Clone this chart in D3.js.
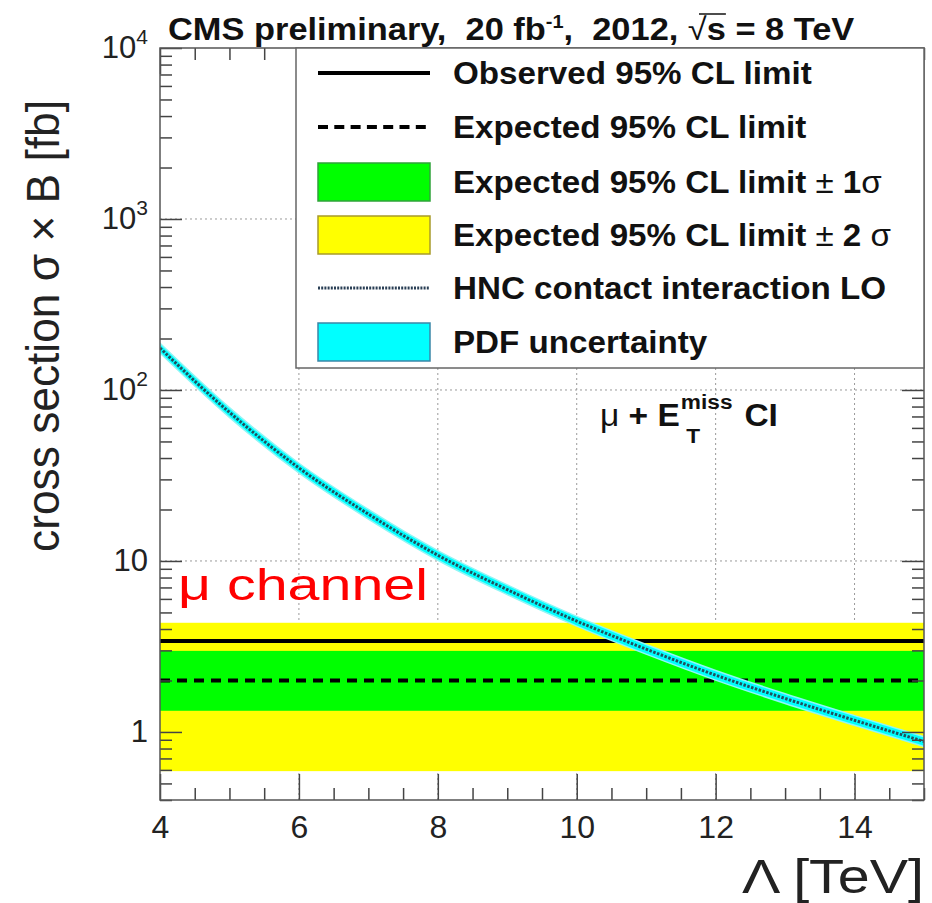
<!DOCTYPE html>
<html>
<head>
<meta charset="utf-8">
<script src="https://cdn.jsdelivr.net/npm/d3@7"></script>
<style>
  body { margin: 0; background: #fff; }
  svg { display: block; }
  text { font-family: "Liberation Sans", Arial, Helvetica, sans-serif; white-space: pre; }
</style>
</head>
<body>
<svg id="chart" width="932" height="903"></svg>
<script>
// HNC contact-interaction LO cross section vs. scale Lambda
const lambdaTeV = [4, 5, 6, 7, 8, 9, 10, 11, 12, 13, 14, 15];
const sigmaHNC  = [176, 74, 35, 18.8, 10.8, 6.8, 4.45, 3.05, 2.15, 1.57, 1.17, 0.88];
const pdfRelUnc = 0.065;

// 95% CL limits on sigma x B [fb] (flat in Lambda)
const observedLimit  = 3.4;
const expectedLimit  = 2.0;
const expected1Sigma = [1.33, 2.98];
const expected2Sigma = [0.59, 4.35];

// axis ticks
const xMajorTicks = [4, 6, 8, 10, 12, 14];
const yDecadeTicks = [1, 10, 100, 1000, 10000];

const legendLabels = [
  "Observed 95% CL limit",
  "Expected 95% CL limit",
  "Expected 95% CL limit",
  "Expected 95% CL limit",
  "HNC contact interaction LO",
  "PDF uncertainty"
];

const svg = d3.select("#chart");
const plot = { left: 160, right: 924, top: 48, bottom: 800 };

const x = d3.scaleLinear().domain([4, 15]).range([plot.left, plot.right]);
const y = d3.scaleLog().domain([0.4, 1e4]).range([plot.bottom, plot.top]);

svg.append("defs").append("clipPath").attr("id", "plotClip")
  .append("rect")
  .attr("x", plot.left).attr("y", plot.top)
  .attr("width", plot.right - plot.left).attr("height", plot.bottom - plot.top);

// dotted grid
const grid = svg.append("g")
  .attr("stroke", "#9a9a9a").attr("stroke-width", 1).attr("stroke-dasharray", "2,3");
grid.selectAll("line.gv").data(xMajorTicks.filter(v => v > 4)).join("line")
  .attr("class", "gv")
  .attr("x1", d => x(d)).attr("x2", d => x(d))
  .attr("y1", plot.top).attr("y2", plot.bottom);
grid.selectAll("line.gh").data(yDecadeTicks.filter(v => v < 1e4)).join("line")
  .attr("class", "gh")
  .attr("x1", plot.left).attr("x2", plot.right)
  .attr("y1", d => y(d)).attr("y2", d => y(d));

// expected-limit bands
const bands = svg.append("g").attr("clip-path", "url(#plotClip)");
bands.append("rect")
  .attr("x", x(4)).attr("width", x(15) - x(4))
  .attr("y", y(expected2Sigma[1])).attr("height", y(expected2Sigma[0]) - y(expected2Sigma[1]))
  .attr("fill", "#ffff00");
bands.append("rect")
  .attr("x", x(4)).attr("width", x(15) - x(4))
  .attr("y", y(expected1Sigma[1])).attr("height", y(expected1Sigma[0]) - y(expected1Sigma[1]))
  .attr("fill", "#00ff00");

// limit lines
bands.append("line")
  .attr("x1", x(4)).attr("x2", x(15))
  .attr("y1", y(observedLimit)).attr("y2", y(observedLimit))
  .attr("stroke", "#000").attr("stroke-width", 4);
bands.append("line")
  .attr("x1", x(4)).attr("x2", x(15))
  .attr("y1", y(expectedLimit)).attr("y2", y(expectedLimit))
  .attr("stroke", "#000").attr("stroke-width", 4).attr("stroke-dasharray", "10,7");

// theory curve with PDF band
const pts = lambdaTeV.map((l, i) => ({ l, s: sigmaHNC[i] }));
const pdfArea = d3.area()
  .x(d => x(d.l))
  .y0(d => y(d.s * (1 - pdfRelUnc)))
  .y1(d => y(d.s * (1 + pdfRelUnc)))
  .curve(d3.curveMonotoneX);
const hncLine = d3.line()
  .x(d => x(d.l)).y(d => y(d.s))
  .curve(d3.curveMonotoneX);
bands.append("path").datum(pts).attr("d", pdfArea)
  .attr("fill", "#00ffff").attr("stroke", "#8ff6f6").attr("stroke-width", 1.5);
bands.append("path").datum(pts).attr("d", hncLine)
  .attr("fill", "none").attr("stroke", "#22505f").attr("stroke-width", 3)
  .attr("stroke-dasharray", "2.5,1.5");

// axes (ticks point inward, on all four sides)
function styleTicks(g) {
  g.select(".domain").remove();
  g.selectAll(".tick line").attr("stroke", "#444").attr("stroke-width", 1.5);
}
const xMinor = d3.range(4, 15.001, 0.5).filter(v => !xMajorTicks.includes(v));
const yMinor = [];
[0.1, 1, 10, 100, 1000].forEach(dec => {
  for (let k = 2; k <= 9; k++) {
    const v = k * dec;
    if (v >= 0.4 && v < 1e4) yMinor.push(v);
  }
});

const xAxis = svg.append("g").attr("transform", `translate(0,${plot.bottom})`)
  .call(d3.axisBottom(x).tickValues(xMajorTicks).tickSize(-26).tickPadding(15).tickFormat(d3.format("d")))
  .call(styleTicks);
xAxis.selectAll("text")
  .attr("font-size", 32).attr("fill", "#222")
  .attr("font-family", "'Liberation Sans', Arial, sans-serif");
svg.append("g").attr("transform", `translate(0,${plot.bottom})`)
  .call(d3.axisBottom(x).tickValues(xMinor).tickSize(-12).tickFormat(""))
  .call(styleTicks);

svg.append("g").attr("transform", `translate(0,${plot.top})`)
  .call(d3.axisTop(x).tickValues(xMajorTicks).tickSize(-26).tickFormat(""))
  .call(styleTicks);
svg.append("g").attr("transform", `translate(0,${plot.top})`)
  .call(d3.axisTop(x).tickValues(xMinor).tickSize(-12).tickFormat(""))
  .call(styleTicks);

const yAxis = svg.append("g").attr("transform", `translate(${plot.left},0)`)
  .call(d3.axisLeft(y).tickValues(yDecadeTicks).tickSize(-22).tickPadding(12).tickFormat(""))
  .call(styleTicks);
yAxis.selectAll(".tick text")
  .attr("font-size", 31).attr("fill", "#222")
  .attr("font-family", "'Liberation Sans', Arial, sans-serif")
  .each(function (d) {
    const t = d3.select(this);
    const e = Math.round(Math.log10(d));
    if (e <= 1) {
      t.text(String(d));
    } else {
      t.append("tspan").text("10");
      t.append("tspan").attr("font-size", 21).attr("dy", -14).text(String(e));
    }
  });
svg.append("g").attr("transform", `translate(${plot.left},0)`)
  .call(d3.axisLeft(y).tickValues(yMinor).tickSize(-12).tickFormat(""))
  .call(styleTicks);
svg.append("g").attr("transform", `translate(${plot.right},0)`)
  .call(d3.axisRight(y).tickValues(yDecadeTicks).tickSize(-22).tickFormat(""))
  .call(styleTicks);
svg.append("g").attr("transform", `translate(${plot.right},0)`)
  .call(d3.axisRight(y).tickValues(yMinor).tickSize(-12).tickFormat(""))
  .call(styleTicks);

// frame
svg.append("rect")
  .attr("x", plot.left).attr("y", plot.top)
  .attr("width", plot.right - plot.left).attr("height", plot.bottom - plot.top)
  .attr("fill", "none").attr("stroke", "#555").attr("stroke-width", 1.5);

// axis titles
svg.append("text")
  .attr("transform", "translate(59,552) rotate(-90)")
  .attr("font-size", 46).attr("fill", "#222")
  .attr("textLength", 452).attr("lengthAdjust", "spacingAndGlyphs")
  .text("cross section σ × B [fb]");
svg.append("text")
  .attr("x", 924).attr("y", 893).attr("text-anchor", "end")
  .attr("font-size", 48).attr("fill", "#222")
  .attr("textLength", 182).attr("lengthAdjust", "spacingAndGlyphs")
  .text("Λ [TeV]");

// legend
const lg = svg.append("g");
lg.append("rect")
  .attr("x", 296).attr("y", plot.top).attr("width", plot.right - 296).attr("height", 320)
  .attr("fill", "#fff").attr("stroke", "#666").attr("stroke-width", 1.5);
const rowY = [73, 127, 182, 235, 288, 342];
const symX0 = 318, symX1 = 430;
lg.append("line").attr("x1", symX0).attr("x2", symX1).attr("y1", rowY[0]).attr("y2", rowY[0])
  .attr("stroke", "#000").attr("stroke-width", 4);
lg.append("line").attr("x1", symX0).attr("x2", symX1).attr("y1", rowY[1]).attr("y2", rowY[1])
  .attr("stroke", "#000").attr("stroke-width", 4).attr("stroke-dasharray", "10,6.3");
lg.append("rect").attr("x", symX0).attr("y", rowY[2] - 19).attr("width", symX1 - symX0).attr("height", 38)
  .attr("fill", "#00ff00").attr("stroke", "#2fa33a").attr("stroke-width", 1.5);
lg.append("rect").attr("x", symX0).attr("y", rowY[3] - 19).attr("width", symX1 - symX0).attr("height", 38)
  .attr("fill", "#ffff00").attr("stroke", "#a89b2a").attr("stroke-width", 1.5);
lg.append("line").attr("x1", symX0).attr("x2", symX1).attr("y1", rowY[4]).attr("y2", rowY[4])
  .attr("stroke", "#2a3f55").attr("stroke-width", 3).attr("stroke-dasharray", "2,1.2");
lg.append("rect").attr("x", symX0).attr("y", rowY[5] - 19).attr("width", symX1 - symX0).attr("height", 38)
  .attr("fill", "#00ffff").attr("stroke", "#3a86a8").attr("stroke-width", 1.5);

const legendStretch = 1.07;
legendLabels.forEach((lab, i) => {
  const g = lg.append("g").attr("transform", `translate(453,${rowY[i] + 11}) scale(${legendStretch},1)`);
  const t = g.append("text").attr("font-size", 31).attr("font-weight", "bold").attr("fill", "#111");
  t.append("tspan").text(lab);
  if (i === 2 || i === 3) {
    t.append("tspan").attr("font-weight", "normal").text(" ± ");
    t.append("tspan").text(i === 2 ? "1" : "2");
    t.append("tspan").attr("font-weight", "normal").text(i === 2 ? "σ" : " σ");
  }
});

// title
const titleG = svg.append("g").attr("transform", "translate(168,40) scale(1.11,1)");
const title = titleG.append("text").attr("font-size", 31).attr("font-weight", "bold").attr("fill", "#111");
title.append("tspan").text("CMS preliminary,  20 fb");
title.append("tspan").attr("font-size", 18).attr("dy", -12).text("-1");
title.append("tspan").attr("dy", 12).text(",  2012, ");
title.append("tspan").attr("font-weight", "normal").text("√");
title.append("tspan").text("s = 8 TeV");
{
  const node = title.node();
  const full = node.textContent;
  const i = full.indexOf("√");
  const sx0 = node.getStartPositionOfChar(i).x + 10;
  const sx1 = node.getEndPositionOfChar(i + 1).x;
  titleG.append("line").attr("x1", sx0).attr("x2", sx1).attr("y1", -26).attr("y2", -26)
    .attr("stroke", "#111").attr("stroke-width", 1.5);
}

// channel annotation
const annG = svg.append("g").attr("transform", "translate(600,426) scale(1.08,1)");
const ann = annG.append("text").attr("font-size", 31).attr("fill", "#111");
ann.append("tspan").text("μ");
ann.append("tspan").attr("font-weight", "bold").text(" + E");
{
  const endE = ann.node().getComputedTextLength();
  const sup = annG.append("text").attr("x", endE + 1).attr("y", -17).attr("font-size", 21)
    .attr("font-weight", "bold").attr("fill", "#111").text("miss");
  annG.append("text").attr("x", endE + 6).attr("y", 17).attr("font-size", 21)
    .attr("font-weight", "bold").attr("fill", "#111").text("T");
  const supEnd = endE + 1 + sup.node().getComputedTextLength();
  annG.append("text").attr("x", supEnd + 11).attr("y", 0).attr("font-size", 31)
    .attr("font-weight", "bold").attr("fill", "#111").text("CI");
}

// channel label
svg.append("text")
  .attr("x", 178).attr("y", 600)
  .attr("font-family", "'Open Sans', 'Noto Sans', sans-serif")
  .attr("font-size", 44).attr("fill", "#ff0000")
  .attr("textLength", 250).attr("lengthAdjust", "spacingAndGlyphs")
  .text("μ channel");
</script>
</body>
</html>
